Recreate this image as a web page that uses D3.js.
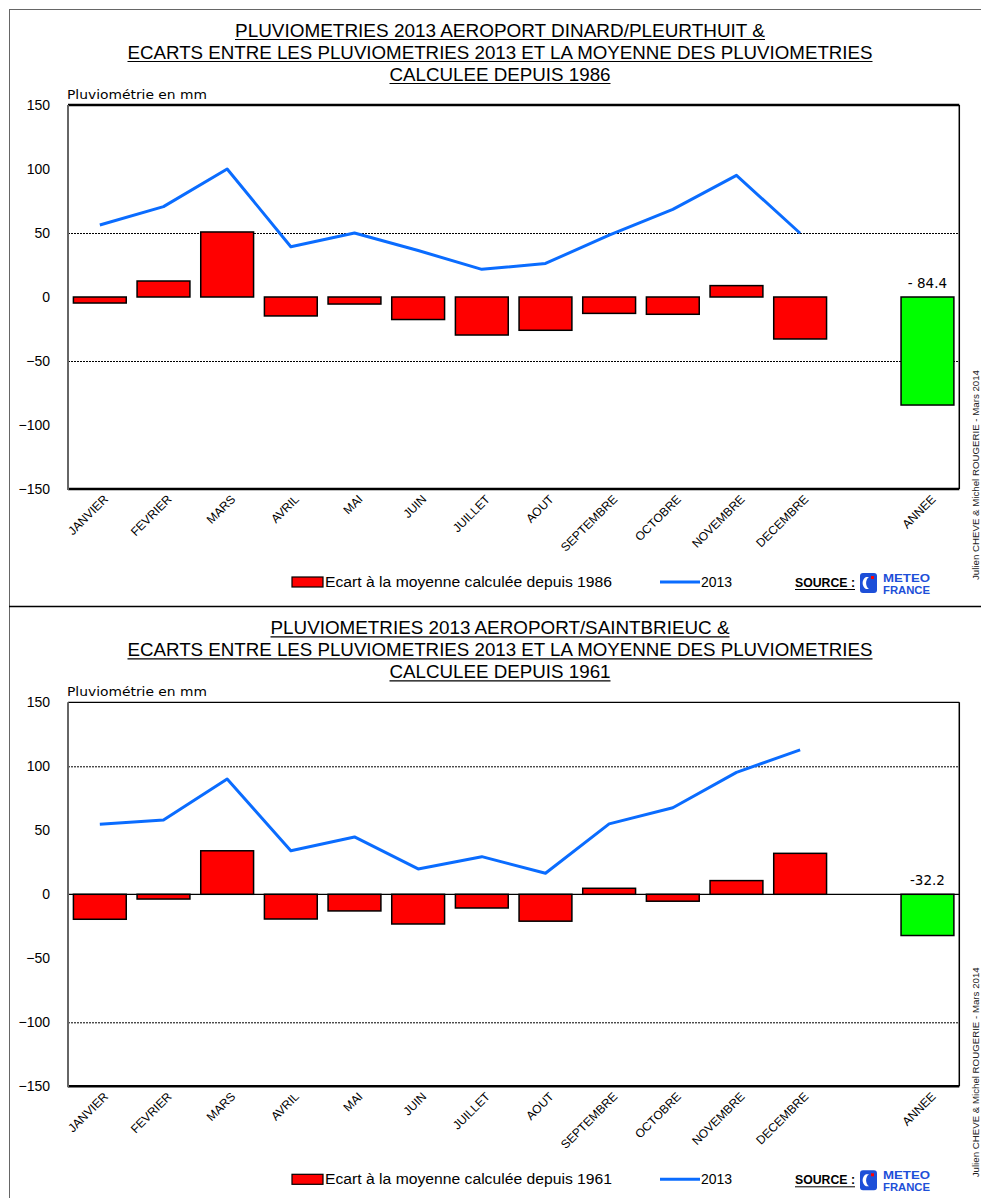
<!DOCTYPE html>
<html>
<head>
<meta charset="utf-8">
<script src="https://cdn.jsdelivr.net/npm/d3@7"></script>
<style>
  body { margin: 0; background: #fff; }
  svg { display: block; }
</style>
</head>
<body>
<svg id="chart" width="981" height="1198"></svg>
<script>
// ---- data -------------------------------------------------------------
const months = ["JANVIER", "FEVRIER", "MARS", "AVRIL", "MAI", "JUIN", "JUILLET",
                "AOUT", "SEPTEMBRE", "OCTOBRE", "NOVEMBRE", "DECEMBRE"];
const yearLabel = "ANNEE";
const yTicks = [150, 100, 50, 0, -50, -100, -150];

// Dinard / Pleurtuit
const dinardTitle = ["PLUVIOMETRIES 2013 AEROPORT DINARD/PLEURTHUIT &",
                     "ECARTS ENTRE LES PLUVIOMETRIES 2013 ET LA MOYENNE DES PLUVIOMETRIES",
                     "CALCULEE DEPUIS 1986"];
const dinardEcart = [-4.7, 12.5, 50.8, -14.8, -5.5, -17.6, -29.7, -26.0, -12.8, -13.5, 8.9, -32.8];
const dinard2013 = [56.3, 70.6, 100.0, 39.3, 50.0, 36.3, 21.6, 26.2, 48.4, 68.5, 95.0, 49.8];
const dinardAnnee = -84.4;
const dinardAnneeLabel = "- 84.4";
const dinardGrid = [50, -50];
const dinardLegend = "Ecart à la moyenne calculée depuis 1986";

// Saint-Brieuc
const brieucTitle = ["PLUVIOMETRIES 2013 AEROPORT/SAINTBRIEUC &",
                     "ECARTS ENTRE LES PLUVIOMETRIES 2013 ET LA MOYENNE DES PLUVIOMETRIES",
                     "CALCULEE DEPUIS 1961"];
const brieucEcart = [-19.5, -3.7, 34.0, -19.3, -13.0, -23.2, -10.7, -21.0, 4.7, -5.4, 10.7, 32.0];
const brieuc2013 = [54.7, 58.0, 90.0, 34.0, 44.8, 19.8, 29.4, 16.4, 55.0, 67.6, 95.3, 112.8];
const brieucAnnee = -32.2;
const brieucAnneeLabel = "-32.2";
const brieucGrid = [100, -100];
const brieucLegend = "Ecart à la moyenne calculée depuis 1961";

const yAxisTitle = "Pluviométrie en mm";
const seriesName = "2013";
const credits = ["Julien CHEVE & Michel ROUGERIE - Mars 2014",
                 "Julien CHEVE & Michel ROUGERIE - Mars 2014"];

// ---- styles -----------------------------------------------------------
const RED = "#ff0000", GREEN = "#00ff00", BLUE = "#0a6cff", LOGO_BLUE = "#1d4fd8";
const SANS = "'Liberation Sans', Arial, sans-serif";
const TAHOMA = "'DejaVu Sans', Verdana, sans-serif";

const svg = d3.select("#chart");

// page frame
svg.append("line").attr("x1", 9.5).attr("x2", 9.5).attr("y1", 9).attr("y2", 1198)
  .attr("stroke", "#666").attr("stroke-width", 1);
svg.append("line").attr("x1", 9).attr("x2", 981).attr("y1", 9.5).attr("y2", 9.5)
  .attr("stroke", "#666").attr("stroke-width", 1);
svg.append("line").attr("x1", 9).attr("x2", 981).attr("y1", 606.5).attr("y2", 606.5)
  .attr("stroke", "#000").attr("stroke-width", 1.5);

// shared x scale: 12 months, an empty slot, then the yearly total
const slots = [...months, "_gap", yearLabel];
const x = d3.scaleBand().domain(slots).range([68, 959.3])
  .paddingInner(0.17).paddingOuter(0.085);

function drawPanel(cfg) {
  const g = svg.append("g").attr("transform", `translate(0,${cfg.dy})`);
  const top = 105, bottom = 489, left = 68, right = 959.3;
  const y = d3.scaleLinear().domain([-150, 150]).range([bottom, top]);

  // title with underlines
  const titleBase = [37, 59, 81];
  cfg.title.forEach((t, i) => {
    const len = cfg.titleWidths[i];
    g.append("text").attr("x", 500).attr("y", titleBase[i])
      .attr("text-anchor", "middle").attr("font-family", SANS).attr("font-size", 18)
      .attr("textLength", len).attr("lengthAdjust", "spacingAndGlyphs")
      .attr("fill", "#000").text(t);
    g.append("line").attr("x1", 500 - len / 2).attr("x2", 500 + len / 2)
      .attr("y1", titleBase[i] + 2.5).attr("y2", titleBase[i] + 2.5)
      .attr("stroke", "#000").attr("stroke-width", 1.2);
  });

  // y axis title
  g.append("text").attr("x", 67).attr("y", 99).attr("font-family", TAHOMA)
    .attr("font-size", 12.5).attr("textLength", 140).attr("lengthAdjust", "spacingAndGlyphs")
    .text(yAxisTitle);

  // y axis labels
  const yAxis = g.append("g").attr("transform", `translate(${left},0)`)
    .call(d3.axisLeft(y).tickValues(yTicks).tickSize(0).tickPadding(18).tickFormat(d3.format("d")));
  yAxis.select(".domain").remove();
  yAxis.selectAll("text").attr("font-family", SANS).attr("font-size", 14).attr("fill", "#000");

  // dotted gridlines
  g.selectAll(".grid").data(cfg.grid).join("line")
    .attr("x1", left).attr("x2", right)
    .attr("y1", d => Math.round(y(d)) + 0.5).attr("y2", d => Math.round(y(d)) + 0.5)
    .attr("stroke", "#000").attr("stroke-width", 1).attr("stroke-dasharray", "2,1");

  if (cfg.zeroLine) {
    g.append("line").attr("x1", left).attr("x2", right)
      .attr("y1", y(0)).attr("y2", y(0)).attr("stroke", "#000").attr("stroke-width", 1.2);
  }

  // monthly deviation bars
  g.selectAll(".bar").data(cfg.ecart).join("rect")
    .attr("x", (d, i) => x(months[i]))
    .attr("width", x.bandwidth())
    .attr("y", d => y(Math.max(0, d)))
    .attr("height", d => Math.abs(y(d) - y(0)))
    .attr("fill", RED).attr("stroke", "#000").attr("stroke-width", 1.5);

  // yearly deviation
  g.append("rect")
    .attr("x", x(yearLabel)).attr("width", x.bandwidth())
    .attr("y", y(Math.max(0, cfg.annee)))
    .attr("height", Math.abs(y(cfg.annee) - y(0)))
    .attr("fill", GREEN).attr("stroke", "#000").attr("stroke-width", 1.5);
  g.append("text")
    .attr("x", x(yearLabel) + x.bandwidth() / 2)
    .attr("y", y(0) - 9)
    .attr("text-anchor", "middle").attr("font-family", TAHOMA).attr("font-size", 13.5)
    .text(cfg.anneeLabel);

  // 2013 rainfall line
  const line = d3.line()
    .x((d, i) => x(months[i]) + x.bandwidth() / 2)
    .y(d => y(d));
  g.append("path").datum(cfg.pluvio).attr("d", line)
    .attr("fill", "none").attr("stroke", BLUE).attr("stroke-width", 3)
    .attr("stroke-linejoin", "round");

  // plot frame
  g.append("line").attr("x1", left).attr("x2", right).attr("y1", top).attr("y2", top)
    .attr("stroke", "#000").attr("stroke-width", cfg.topBorder);
  g.append("line").attr("x1", right).attr("x2", right).attr("y1", top).attr("y2", bottom)
    .attr("stroke", "#000").attr("stroke-width", 1.5);
  g.append("line").attr("x1", left).attr("x2", right).attr("y1", bottom).attr("y2", bottom)
    .attr("stroke", "#000").attr("stroke-width", 2.5);
  g.append("line").attr("x1", left).attr("x2", left).attr("y1", top).attr("y2", bottom + 1)
    .attr("stroke", "#666").attr("stroke-width", 2);

  // x axis labels, rotated
  const xAxis = g.append("g").attr("transform", `translate(0,${bottom})`)
    .call(d3.axisBottom(x).tickValues([...months, yearLabel]).tickSize(0));
  xAxis.select(".domain").remove();
  xAxis.selectAll("text")
    .attr("font-family", SANS).attr("font-size", 12).attr("fill", "#000")
    .attr("text-anchor", "end")
    .attr("transform", "translate(6,8) rotate(-45)")
    .attr("dy", "0.35em").attr("y", 0).attr("x", 0);

  // credits, rotated
  g.append("text").attr("transform", `translate(979,${580}) rotate(-90)`)
    .attr("font-family", SANS).attr("font-size", 9.5)
    .attr("textLength", 210).attr("lengthAdjust", "spacingAndGlyphs")
    .attr("fill", "#222").text(cfg.credit);

  // legend
  const ly = 582;
  g.append("rect").attr("x", 292).attr("y", ly - 5).attr("width", 31).attr("height", 10)
    .attr("fill", RED).attr("stroke", "#000").attr("stroke-width", 1.2);
  g.append("text").attr("x", 325).attr("y", ly + 5).attr("font-family", SANS)
    .attr("font-size", 14).attr("textLength", 287).attr("lengthAdjust", "spacingAndGlyphs")
    .text(cfg.legend);
  g.append("line").attr("x1", 660).attr("x2", 700).attr("y1", ly).attr("y2", ly)
    .attr("stroke", BLUE).attr("stroke-width", 3);
  g.append("text").attr("x", 701).attr("y", ly + 5).attr("font-family", SANS)
    .attr("font-size", 14).text(seriesName);

  // source + logo
  g.append("text").attr("x", 795).attr("y", ly + 5).attr("font-family", SANS)
    .attr("font-size", 12).attr("font-weight", "bold")
    .attr("textLength", 60).attr("lengthAdjust", "spacingAndGlyphs")
    .text("SOURCE :");
  g.append("line").attr("x1", 795).attr("x2", 855).attr("y1", ly + 7.5).attr("y2", ly + 7.5)
    .attr("stroke", "#000").attr("stroke-width", 1);
  const logo = g.append("g").attr("transform", `translate(860,${ly - 9})`);
  logo.append("rect").attr("x", 0).attr("y", 0).attr("width", 17).attr("height", 20)
    .attr("rx", 3).attr("fill", LOGO_BLUE);
  logo.append("path").attr("d", "M6,4 A7,7 0 0 0 6,16 L9,16 A6,7 0 0 1 9,4 Z").attr("fill", "#fff");
  logo.append("rect").attr("x", 11).attr("y", 3).attr("width", 3).attr("height", 3).attr("fill", RED);
  logo.append("text").attr("x", 23).attr("y", 8.5).attr("font-family", SANS)
    .attr("font-weight", "bold").attr("font-size", 10.5).attr("fill", LOGO_BLUE)
    .attr("textLength", 47).attr("lengthAdjust", "spacingAndGlyphs").text("METEO");
  logo.append("text").attr("x", 23).attr("y", 21).attr("font-family", SANS)
    .attr("font-weight", "bold").attr("font-size", 10.5).attr("fill", LOGO_BLUE)
    .attr("textLength", 47).attr("lengthAdjust", "spacingAndGlyphs").text("FRANCE");
}

drawPanel({
  dy: 0, title: dinardTitle, titleWidths: [530, 745, 221],
  ecart: dinardEcart, pluvio: dinard2013, annee: dinardAnnee, anneeLabel: dinardAnneeLabel,
  grid: dinardGrid, zeroLine: false, topBorder: 2.5, legend: dinardLegend, credit: credits[0]
});
drawPanel({
  dy: 597.3, title: brieucTitle, titleWidths: [459, 745, 221],
  ecart: brieucEcart, pluvio: brieuc2013, annee: brieucAnnee, anneeLabel: brieucAnneeLabel,
  grid: brieucGrid, zeroLine: true, topBorder: 1.2, legend: brieucLegend, credit: credits[1]
});
</script>
</body>
</html>
